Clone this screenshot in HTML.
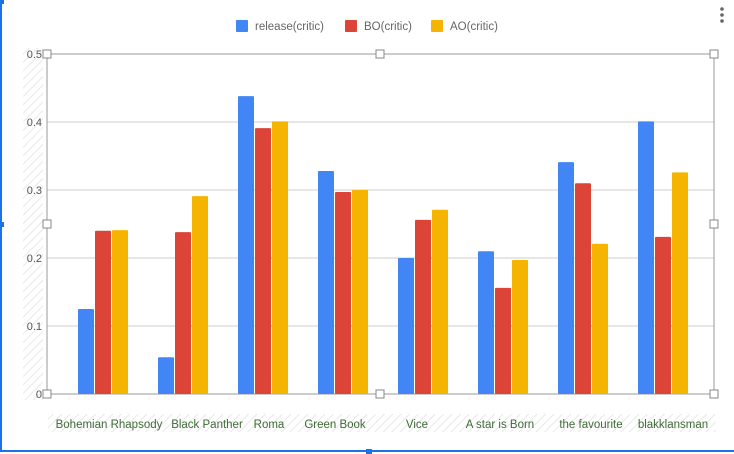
<!DOCTYPE html>
<html><head><meta charset="utf-8"><style>
html,body{margin:0;padding:0;background:#fff;}
svg{display:block;font-family:"Liberation Sans",Arial,sans-serif;}
</style></head><body>
<svg id="chart" width="734" height="454" viewBox="0 0 734 454">
<defs>
<pattern id="hatch" width="6" height="6" patternUnits="userSpaceOnUse" patternTransform="rotate(45)">
<rect width="6" height="6" fill="#fff"/><line x1="0" y1="0" x2="0" y2="6" stroke="#e8e8e8" stroke-width="2"/>
</pattern>
</defs>
<rect x="0" y="0" width="734" height="454" fill="#fff"/>
<rect x="0" y="0" width="2" height="451" fill="#1a73e8"/>
<rect x="0" y="450" width="734" height="2" fill="#1a73e8"/>
<rect x="0" y="0" width="4" height="4" fill="#1a73e8"/>
<rect x="0" y="222" width="4" height="5" fill="#1a73e8"/>
<rect x="366" y="449" width="6" height="5" fill="#1a73e8"/>
<g fill="#666">
<circle cx="722" cy="9" r="1.8"/><circle cx="722" cy="15" r="1.8"/><circle cx="722" cy="21" r="1.8"/>
</g>
<g id="legend"></g>
<rect x="23" y="48" width="20" height="352" fill="url(#hatch)"/>
<rect x="48" y="414" width="668" height="18" fill="url(#hatch)"/>
<g id="grid"></g>
<g id="bars"></g>
<g id="xlabels"></g>
<g id="handles"></g>
</svg>
<script>
const categories = ["Bohemian Rhapsody","Black Panther","Roma","Green Book","Vice","A star is Born","the favourite","blakklansman"];
const release = [0.125,0.054,0.438,0.328,0.200,0.210,0.341,0.401];
const bo = [0.240,0.238,0.391,0.297,0.256,0.156,0.310,0.231];
const ao = [0.241,0.291,0.401,0.300,0.271,0.197,0.221,0.326];
const seriesNames = ["release(critic)","BO(critic)","AO(critic)"];
const yTicks = [0,0.1,0.2,0.3,0.4,0.5];
const tickLabels = ["0","0.1","0.2","0.3","0.4","0.5"];

const NS="http://www.w3.org/2000/svg";
const colors=["#4285f4","#db4437","#f4b400"];
const L=47,R=714,T=54,B=394;
const y=v=>B-(v/0.5)*(B-T);
const gw=80, x0=63;
const x=i=>x0+gw*i;
const labelShift=[6,24,6,-8,-6,-3,8,10];
function mk(tag,attrs,parent){const e=document.createElementNS(NS,tag);for(const k in attrs)e.setAttribute(k,attrs[k]);parent.appendChild(e);return e;}
const grid=document.getElementById('grid');
yTicks.forEach((t,i)=>{
  const g=mk('line',{x1:L,x2:R,y1:y(t),y2:y(t),stroke:(t===0||t===0.5)?'#999':'#ccc','stroke-width':1},grid);
  
  
  const tx=mk('text',{x:42,y:y(t)+4,'text-anchor':'end','font-size':11,fill:'#555'},grid);
  tx.textContent=tickLabels[i];
  
  
});
mk('line',{x1:L,x2:L,y1:T,y2:B,stroke:'#999'},grid);
mk('line',{x1:R,x2:R,y1:T,y2:B,stroke:'#999'},grid);
const bars=document.getElementById('bars');
const series=[release,bo,ao];
const bw=16;
categories.forEach((c,i)=>{
  const start=x(i)+gw/2-bw*1.5-1;
  series.forEach((s,j)=>{
    const r=mk('rect',{x:start+j*(bw+1),y:y(s[i]),width:bw,height:B-y(s[i]),fill:colors[j],rx:1},bars);
    
    
  });
  const t=mk('text',{x:x(i)+gw/2+labelShift[i],y:428,'text-anchor':'middle','font-size':11.5,fill:'#3d6b35'},document.getElementById('xlabels'));
  t.textContent=c;
  
  
});
const hd=document.getElementById('handles');
[[L,T],[380,T],[R,T],[L,224],[R,224],[L,B],[380,B],[R,B]].forEach(p=>{
  const h=mk('rect',{x:p[0]-4,y:p[1]-4,width:8,height:8,fill:'#fff',stroke:'#888'},hd);
  
  
});
const lg=document.getElementById('legend');
const lx=[236,345,431];
seriesNames.forEach((n,j)=>{
  const g=mk('g',{},lg);
  
  
  mk('rect',{x:lx[j],y:20,width:12,height:12,fill:colors[j],rx:1},g);
  const t=mk('text',{x:lx[j]+19,y:30,'font-size':11.5,fill:'#666'},g);
  t.textContent=n;
});
</script>
</body></html>
